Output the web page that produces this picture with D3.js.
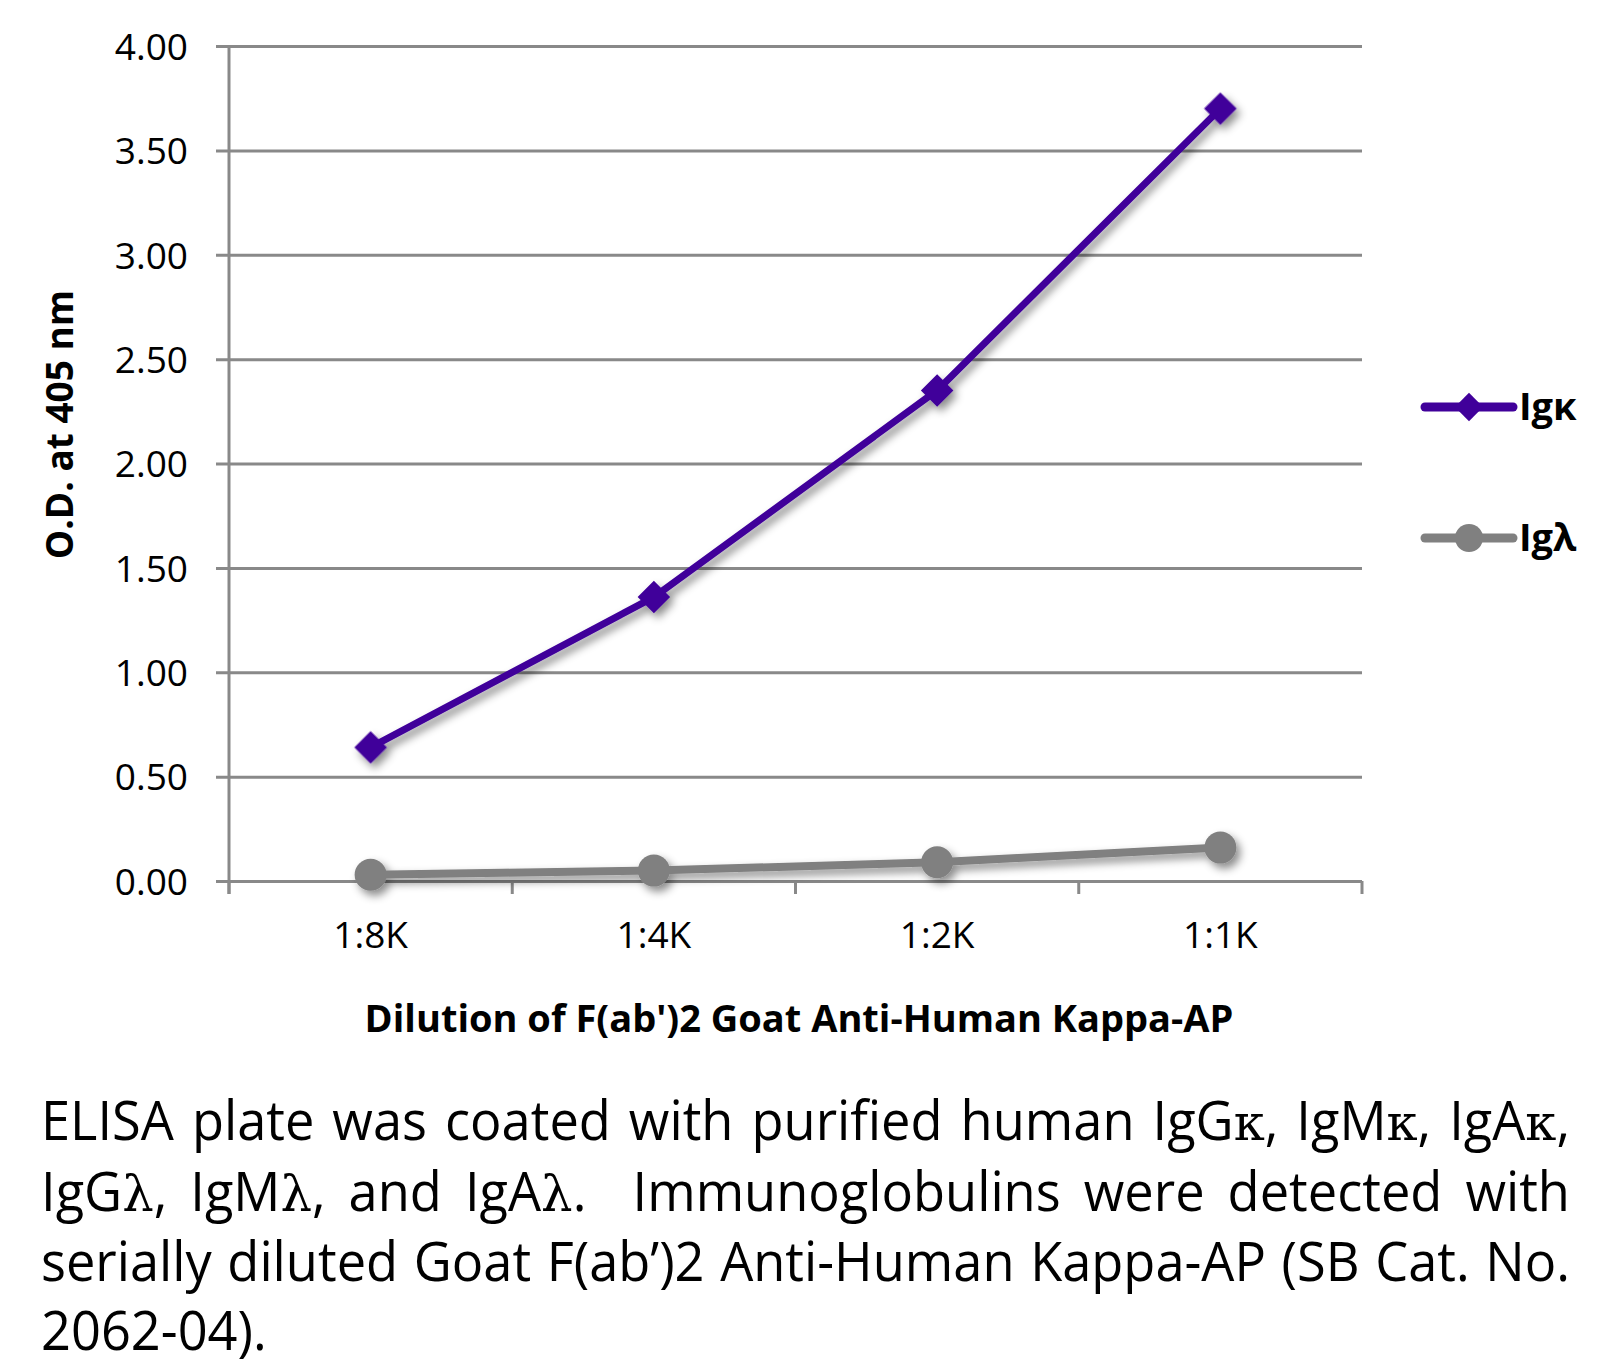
<!DOCTYPE html>
<html>
<head>
<meta charset="utf-8">
<script src="https://cdn.jsdelivr.net/npm/d3@7"></script>
<style>
  html, body { margin: 0; padding: 0; background: #fff; }
  svg { display: block; }
  text { font-family: "Open Sans", "Noto Sans", sans-serif; fill: #000; }
</style>
</head>
<body>
<svg id="chart" width="1620" height="1365"></svg>
<script>
// ---- data ----
const categories = ["1:8K", "1:4K", "1:2K", "1:1K"];
const kappaValues = [0.64, 1.36, 2.35, 3.70];
const lambdaValues = [0.03, 0.05, 0.09, 0.16];
const seriesNames = ["Igκ", "Igλ"];
const yTicks = [0, 0.5, 1.0, 1.5, 2.0, 2.5, 3.0, 3.5, 4.0];
const yTitle = "O.D. at 405 nm";
const xTitle = "Dilution of F(ab')2 Goat Anti-Human Kappa-AP";
const captionLines = [
  "ELISA plate was coated with purified human IgGκ, IgMκ, IgAκ,",
  "IgGλ, IgMλ, and IgAλ.  Immunoglobulins were detected with",
  "serially diluted Goat F(ab’)2 Anti-Human Kappa-AP (SB Cat. No.",
  "2062-04)."
];

// ---- layout ----
const svg = d3.select("#chart");
const plotLeft = 229, plotRight = 1362, plotTop = 46, plotBottom = 881;
const gridColor = "#898989";
const kappaColor = "#40009a";
const lambdaColor = "#808080";

const defs = svg.append("defs");
const f = defs.append("filter").attr("id", "shadow")
  .attr("x", "-50%").attr("y", "-50%").attr("width", "200%").attr("height", "200%");
f.append("feDropShadow").attr("dx", 4).attr("dy", 5).attr("stdDeviation", 4)
  .attr("flood-color", "#000").attr("flood-opacity", 0.45);

const x = d3.scaleBand().domain(categories).range([plotLeft, plotRight]).padding(0);
const y = d3.scaleLinear().domain([0, 4]).range([plotBottom, plotTop]);

// y axis with gridlines
const yAxis = d3.axisLeft(y).tickValues(yTicks).tickFormat(d3.format(".2f"))
  .tickSize(-(plotRight - plotLeft)).tickPadding(41);
const gy = svg.append("g").attr("transform", `translate(${plotLeft},0)`).call(yAxis);
gy.select(".domain").remove();
gy.selectAll(".tick line").attr("x1", -13).attr("x2", plotRight - plotLeft)
  .attr("stroke", gridColor).attr("stroke-width", 3);
gy.selectAll(".tick text").attr("font-size", 37).attr("fill", "#000")
  .style("font-family", '"Open Sans", sans-serif').attr("dy", "0.36em");

// y axis vertical line
svg.append("line").attr("x1", plotLeft).attr("x2", plotLeft)
  .attr("y1", plotTop).attr("y2", plotBottom + 13)
  .attr("stroke", gridColor).attr("stroke-width", 3);

// x axis
const xAxis = d3.axisBottom(x).tickSize(0).tickPadding(0);
const gx = svg.append("g").attr("transform", `translate(0,${plotBottom})`).call(xAxis);
gx.select(".domain").remove();
gx.selectAll(".tick text").attr("font-size", 37).attr("fill", "#000")
  .style("font-family", '"Open Sans", sans-serif').attr("dy", "1.82em");
// boundary ticks
const bounds = categories.map(c => x(c)).concat([x(categories[categories.length - 1]) + x.bandwidth()]);
svg.append("g").selectAll("line").data(bounds).join("line")
  .attr("x1", d => d).attr("x2", d => d).attr("y1", plotBottom).attr("y2", plotBottom + 13)
  .attr("stroke", gridColor).attr("stroke-width", 3);

// titles
svg.append("text").attr("transform", `translate(73,${(289 + 560) / 2}) rotate(-90)`)
  .attr("text-anchor", "middle").attr("font-size", 37).attr("font-weight", 700).text(yTitle);
svg.append("text").attr("x", 799).attr("y", 1032).attr("text-anchor", "middle")
  .attr("font-size", 38).attr("font-weight", 700).text(xTitle);

// series
const cx = c => x(c) + x.bandwidth() / 2;
const line = d3.line().x(d => cx(d.c)).y(d => y(d.v));
const kData = categories.map((c, i) => ({ c, v: kappaValues[i] }));
const lData = categories.map((c, i) => ({ c, v: lambdaValues[i] }));

const gl = svg.append("g").attr("filter", "url(#shadow)");
gl.append("path").datum(lData).attr("d", line).attr("fill", "none")
  .attr("stroke", lambdaColor).attr("stroke-width", 8).attr("stroke-linejoin", "round");
gl.selectAll("circle").data(lData).join("circle")
  .attr("cx", d => cx(d.c)).attr("cy", d => y(d.v)).attr("r", 16).attr("fill", lambdaColor);

const gk = svg.append("g").attr("filter", "url(#shadow)");
gk.append("path").datum(kData).attr("d", line).attr("fill", "none")
  .attr("stroke", kappaColor).attr("stroke-width", 7).attr("stroke-linejoin", "round");
const diamond = d3.symbol().type(d3.symbolSquare).size(23 * 23);
gk.selectAll("path.m").data(kData).join("path").attr("class", "m")
  .attr("d", diamond)
  .attr("transform", d => `translate(${cx(d.c)},${y(d.v)}) rotate(45)`)
  .attr("fill", kappaColor);

// legend
const legend = [
  { name: seriesNames[0], color: kappaColor, y: 407, shape: "diamond" },
  { name: seriesNames[1], color: lambdaColor, y: 538, shape: "circle" }
];
legend.forEach(l => {
  const g = svg.append("g");
  g.append("line").attr("x1", 1425).attr("x2", 1513).attr("y1", l.y).attr("y2", l.y)
    .attr("stroke", l.color).attr("stroke-width", 9).attr("stroke-linecap", "round");
  if (l.shape === "diamond") {
    g.append("path").attr("d", d3.symbol().type(d3.symbolSquare).size(20 * 20))
      .attr("transform", `translate(1469,${l.y}) rotate(45)`).attr("fill", l.color);
  } else {
    g.append("circle").attr("cx", 1469).attr("cy", l.y).attr("r", 14).attr("fill", l.color);
  }
  g.append("text").attr("x", 1519).attr("y", l.y + 13).attr("font-size", 38)
    .attr("font-weight", 700).text(l.name);
});

// caption, justified
const capLeft = 41, capRight = 1570, capSize = 54, capScale = 0.97;
const capBaselines = [1140, 1211, 1281, 1350];
const capWidth = (capRight - capLeft) / capScale;
captionLines.forEach((ln, i) => {
  const g = svg.append("g").attr("transform", `translate(${capLeft},0) scale(${capScale},1)`);
  const tokens = ln.split(" ");
  const words = [], gapUnits = [];
  let pending = 0;
  tokens.forEach(t => {
    if (t === "") { pending += 1; }
    else { if (words.length) gapUnits.push(1 + pending); pending = 0; words.push(t); }
  });
  const justify = i < captionLines.length - 1;
  const nodes = words.map(w => {
    const t = g.append("text").attr("font-size", capSize).attr("y", capBaselines[i]);
    w.split(/([κλ])/).filter(s => s.length).forEach(part => {
      const ts = t.append("tspan").text(part);
      if (part === "κ" || part === "λ") ts.style("font-family", '"DejaVu Serif", "Liberation Serif", serif').attr("font-size", capSize * 0.95);
    });
    return t;
  });
  const widths = nodes.map(n => n.node().getComputedTextLength());
  const total = d3.sum(widths);
  const units = d3.sum(gapUnits);
  const unit = justify ? (capWidth - total) / units : capSize * 0.26;
  let xx = 0;
  nodes.forEach((n, j) => { n.attr("x", xx); xx += widths[j] + (j < gapUnits.length ? gapUnits[j] * unit : 0); });
});
</script>
</body>
</html>
